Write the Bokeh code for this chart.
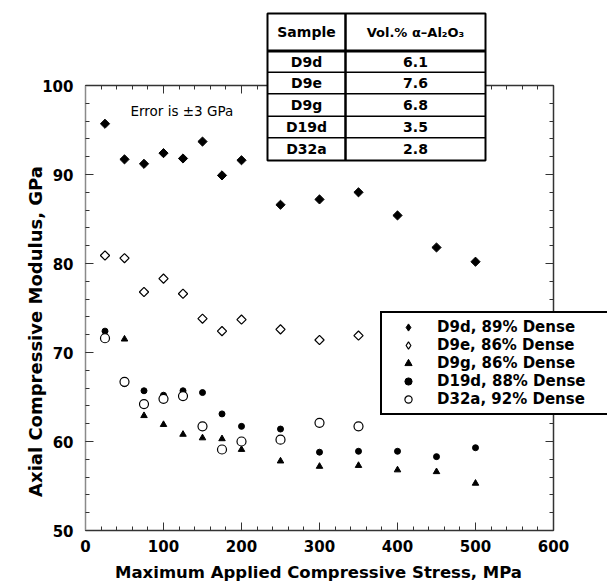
import numpy as np
from bokeh.plotting import figure
from bokeh.models import (Range1d, LinearAxis, SingleIntervalTicker, Legend, LegendItem,
                          Label, BoxAnnotation, CustomJSTickFormatter)
from bokeh.embed import file_html
from bokeh.resources import INLINE

# ---------------- data ----------------
stress = [25, 50, 75, 100, 125, 150, 175, 200, 250, 300, 350, 400, 450, 500]
d9d = [95.7, 91.7, 91.2, 92.4, 91.8, 93.7, 89.9, 91.6, 86.6, 87.2, 88.0, 85.4, 81.8, 80.2]
d9e_stress = [25, 50, 75, 100, 125, 150, 175, 200, 250, 300, 350]
d9e = [80.9, 80.6, 76.8, 78.3, 76.6, 73.8, 72.4, 73.7, 72.6, 71.4, 71.9]
d9g = [72.0, 71.5, 62.9, 61.9, 60.8, 60.4, 60.3, 59.1, 57.8, 57.2, 57.3, 56.8, 56.6, 55.3]
d19d = [72.4, 66.5, 65.7, 65.2, 65.7, 65.5, 63.1, 61.7, 61.4, 58.8, 58.9, 58.9, 58.3, 59.3]
d32a_stress = [25, 50, 75, 100, 125, 150, 175, 200, 250, 300, 350]
d32a = [71.6, 66.7, 64.2, 64.8, 65.1, 61.7, 59.1, 60.0, 60.2, 62.1, 61.7]

legend_labels = ["D9d, 89% Dense", "D9e, 86% Dense", "D9g, 86% Dense",
                 "D19d, 88% Dense", "D32a, 92% Dense"]
table_samples = ["D9d", "D9e", "D9g", "D19d", "D32a"]
table_vol = ["6.1", "7.6", "6.8", "3.5", "2.8"]
table_headers = ["Sample", "Vol.% \u03b1\u2013Al\u2082O\u2083"]

X_MIN, X_MAX, Y_MIN, Y_MAX = 0, 600, 50, 100

# ---------------- layout (canvas pixels) ----------------
W, H = 607, 585
FL, FR, FT, FB = 85, 553, 85, 530  # data box edges in canvas pixels


def dx(px):
    return X_MIN + (px - FL) * (X_MAX - X_MIN) / (FR - FL)


def dy(py):
    return Y_MAX - (py - FT) * (Y_MAX - Y_MIN) / (FB - FT)


BOLD = "DejaVu Sans"

p = figure(width=W, height=H, x_range=Range1d(dx(0), dx(W)), y_range=Range1d(dy(H), dy(0)),
           output_backend="svg", toolbar_location=None, x_axis_type=None, y_axis_type=None,
           min_border=0, min_border_left=0, min_border_right=0,
           min_border_top=0, min_border_bottom=0)
p.outline_line_color = None
p.background_fill_color = "white"
p.border_fill_color = "white"

blank = CustomJSTickFormatter(code="return ''")
bottom = LinearAxis(ticker=SingleIntervalTicker(interval=100, num_minor_ticks=5),
                    fixed_location=Y_MIN, bounds=(X_MIN, X_MAX))
top = LinearAxis(ticker=SingleIntervalTicker(interval=100, num_minor_ticks=5),
                 fixed_location=Y_MAX, bounds=(X_MIN, X_MAX), formatter=blank)
left = LinearAxis(ticker=SingleIntervalTicker(interval=10, num_minor_ticks=5),
                  fixed_location=X_MIN, bounds=(Y_MIN, Y_MAX))
right = LinearAxis(ticker=SingleIntervalTicker(interval=10, num_minor_ticks=5),
                   fixed_location=X_MAX, bounds=(Y_MIN, Y_MAX), formatter=blank)
p.add_layout(bottom, "below")
p.add_layout(top, "above")
p.add_layout(left, "left")
p.add_layout(right, "right")

for ax in [bottom, top, left, right]:
    ax.major_tick_in = 8
    ax.major_tick_out = 0
    ax.minor_tick_in = 4
    ax.minor_tick_out = 0
    ax.axis_line_width = 1.5
    ax.axis_line_color = "#333333"
    ax.major_tick_line_color = "#333333"
    ax.minor_tick_line_color = "#333333"
    ax.major_label_text_font = BOLD
    ax.major_label_text_font_style = "bold"
    ax.major_label_text_font_size = "15px"
    ax.major_label_text_color = "black"
left.axis_line_color = "#8a8a8a"
bottom.major_label_standoff = 9
left.major_label_standoff = 12

# ---------------- data marks ----------------
p.scatter(stress, d9d, marker="square", angle=np.pi / 4, size=6.5,
          fill_color="black", line_color="black")
p.scatter(d9e_stress, d9e, marker="square", angle=np.pi / 4, size=6.5,
          fill_color="white", line_color="black", line_width=1.2)
r_d9g = p.scatter(stress, d9g, marker="triangle", size=6.5,
                  fill_color="black", line_color="black")
r_d19d = p.scatter(stress, d19d, marker="circle", size=6,
                   fill_color="black", line_color="black")
r_d32a = p.scatter(d32a_stress, d32a, marker="circle", size=9,
                   fill_color="white", line_color="black", line_width=1.2)
# hidden twins used only as legend keys (a rotated square is not rotated inside a legend)
k_d9d = p.scatter(stress, d9d, marker="diamond", fill_color="black", line_color="black",
                  visible=False)
k_d9e = p.scatter(d9e_stress, d9e, marker="diamond", fill_color="white", line_color="black",
                  line_width=1.2, visible=False)

legend = Legend(items=[LegendItem(label=l, renderers=[r]) for l, r in
                       zip(legend_labels, [k_d9d, k_d9e, r_d9g, r_d19d, r_d32a])],
                location=(380, H - 415), click_policy="none")
legend.label_text_font = BOLD
legend.label_text_font_style = "bold"
legend.label_text_font_size = "15px"
legend.label_text_color = "black"
legend.label_height = 18
legend.glyph_height = 18
legend.glyph_width = 42
legend.label_width = 190
legend.spacing = 0
legend.padding = 5
legend.margin = 0
legend.label_standoff = 8
legend.border_line_color = "black"
legend.border_line_alpha = 1
legend.border_line_width = 2
legend.background_fill_color = "white"
legend.background_fill_alpha = 1
legend.inactive_fill_alpha = 0
p.add_layout(legend, "center")

# ---------------- table ----------------
tx = [267, 345, 485]
ty = [13, 50.5, 71.7, 93.3, 115.7, 137.3, 160]
p.add_layout(BoxAnnotation(left=dx(tx[0]), right=dx(tx[2]), top=dy(ty[0]), bottom=dy(ty[-1]),
                           fill_color="white", fill_alpha=1, line_color="black",
                           line_alpha=1, line_width=2))
for i, yy in enumerate(ty[1:-1]):
    p.add_layout(BoxAnnotation(left=dx(tx[0]), right=dx(tx[2]), top=dy(yy), bottom=dy(yy),
                               fill_alpha=0, line_color="black", line_alpha=1,
                               line_width=3 if i == 0 else 1.5))
p.add_layout(BoxAnnotation(left=dx(tx[1]), right=dx(tx[1]), top=dy(ty[0]), bottom=dy(ty[-1]),
                           fill_alpha=0, line_color="black", line_alpha=1, line_width=2.5))

col_c = [(tx[0] + tx[1]) / 2, (tx[1] + tx[2]) / 2]
for j, h in enumerate(table_headers):
    p.add_layout(Label(x=dx(col_c[j]), y=dy((ty[0] + ty[1]) / 2), text=h,
                       text_align="center", text_baseline="middle",
                       text_font=BOLD, text_font_style="bold",
                       text_font_size="14px" if j == 0 else "13px", text_color="black"))
for i, (s, v) in enumerate(zip(table_samples, table_vol)):
    yc = dy((ty[i + 1] + ty[i + 2]) / 2)
    for j, t in enumerate([s, v]):
        p.add_layout(Label(x=dx(col_c[j]), y=yc, text=t, text_align="center",
                           text_baseline="middle", text_font=BOLD, text_font_style="bold",
                           text_font_size="14px", text_color="black"))

# ---------------- texts ----------------
p.add_layout(Label(x=dx(130), y=dy(110), text="Error is \u00b13 GPa", text_align="left",
                   text_baseline="middle", text_font="DejaVu Sans", text_font_size="13.5px",
                   text_color="black"))
p.add_layout(Label(x=dx(35), y=dy(331), text="Axial Compressive Modulus, GPa", angle=np.pi / 2,
                   text_align="center", text_baseline="middle", text_font=BOLD,
                   text_font_style="bold", text_font_size="18px", text_color="black"))
p.add_layout(Label(x=dx(318), y=dy(572), text="Maximum Applied Compressive Stress, MPa",
                   text_align="center", text_baseline="middle", text_font=BOLD,
                   text_font_style="bold", text_font_size="16.5px", text_color="black"))

open("out.html", "w").write(file_html(p, INLINE))
